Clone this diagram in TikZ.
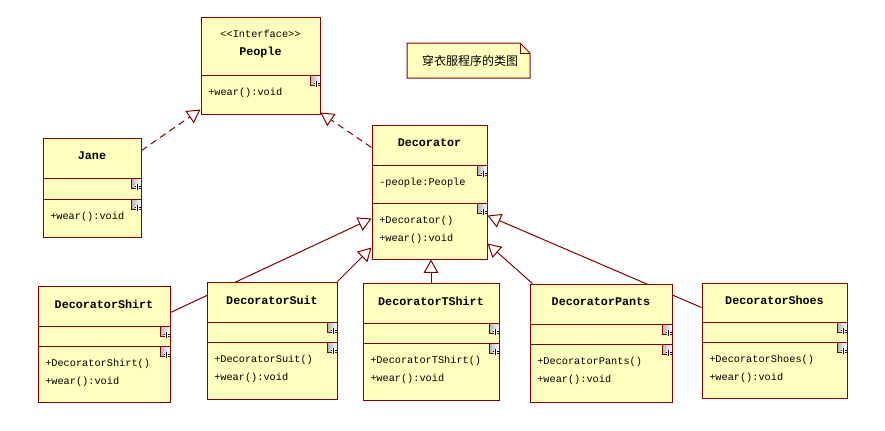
\documentclass[tikz,border=0pt]{standalone}
\usepackage{fontspec}
\newfontfamily\umlfont{Liberation Mono}
\newfontfamily\notefont{Noto Sans CJK SC}
\usetikzlibrary{arrows.meta, positioning, calc, fit, backgrounds}
\definecolor{umlborder}{RGB}{128,0,0}
\definecolor{umlfill}{RGB}{255,255,190}
\tikzset{
  classbox/.style={
    draw = umlborder,
    fill = umlfill,
    line width = 0.75pt,
    inner sep = 0
  },
  classline/.style={
    draw = umlborder,
    line width = 0.75pt
  },
  classtitle/.style={
    font = \umlfont\bfseries\fontsize{8.8}{13.5}\selectfont,
    align = center,
    inner sep = 0
  },
  member/.style={
    font = \umlfont\fontsize{7.7}{13.5}\selectfont,
    anchor = west,
    inner sep = 0
  },
  expandicon/.style={
    left color = gray!60,
    right color = white,
    draw = umlborder,
    line width = 0.6pt
  },
  plusline/.style={
    draw = black,
    line width = 0.9pt,
    preaction = {draw = white, line width = 2pt}
  },
  notetext/.style={
    font = \notefont\fontsize{9}{11}\selectfont,
    inner sep = 0
  },
  realize/.style={
    draw = umlborder,
    line width = 0.75pt,
    dash pattern = on 5pt off 3.5pt,
    arrows = {-Triangle[open, length=10pt, width=11pt]}
  },
  inherit/.style={
    draw = umlborder,
    line width = 0.75pt,
    arrows = {-Triangle[open, length=10pt, width=11pt]}
  }
}
% box, two separators, expand icons, title and operations
\newcommand{\umlclass}[9]{%
  \node[classbox, fit={(#2,#3) (#4,#5)}] (#1) {};
  \draw[classline] (#2,#6) -- (#4,#6);
  \draw[classline] (#2,#7) -- (#4,#7);
  \foreach \sepy in {#6,#7}{
    \filldraw[expandicon] (#4-10,\sepy) rectangle (#4,\sepy+10);
    \draw[plusline] (#4-6.5,\sepy+8.5) -- (#4-0.5,\sepy+8.5);
    \draw[plusline] (#4-3.5,\sepy+5.5) -- (#4-3.5,\sepy+11.5);
  }
  \node[classtitle] (#1-title) at ({(#2+#4)/2},{(#3+#6)/2-2}) {#8};
  \foreach \m [count=\i] in {#9}
    \node[member] (#1-m\i) at (#2+7,#7+18*\i) {\m};
}

\begin{document}
\begin{tikzpicture}[x=0.75pt, y=-0.75pt]
    \useasboundingbox (0,0) rectangle (885,430);

    \umlclass{people}{201}{17}{320}{114}{75}{75}{{\fontseries{m}\fontsize{7.7}{13.5}\selectfont <<Interface>>}\\People}{+wear():void}
    \umlclass{jane}{43}{138}{141}{237}{178}{199}{Jane}{+wear():void}
    \umlclass{decorator}{372}{125}{487}{259}{165}{203}{Decorator}{+Decorator(),+wear():void}
    \node[member] (decorator-a1) at (379,183) {-people:People};
    \umlclass{shirt}{38}{286}{170}{402}{326}{346}{DecoratorShirt}{+DecoratorShirt(),+wear():void}
    \umlclass{suit}{207}{282}{337}{399}{322}{342}{DecoratorSuit}{+DecoratorSuit(),+wear():void}
    \umlclass{tshirt}{363}{283}{499}{400}{323}{343}{DecoratorTShirt}{+DecoratorTShirt(),+wear():void}
    \umlclass{pants}{530}{284}{672}{402}{324}{344}{DecoratorPants}{+DecoratorPants(),+wear():void}
    \umlclass{shoes}{702}{283}{847}{398}{322}{342}{DecoratorShoes}{+DecoratorShoes(),+wear():void}

    % note with folded corner
    \filldraw[classbox] (407,43) -- (520,43) -- (530,53) -- (530,78) -- (407,78) -- cycle;
    \draw[classline] (520,43) -- (520,53) -- (530,53);
    \node[notetext] (note) at (470,61) {穿衣服程序的类图};

    \begin{scope}[on background layer]
      \draw[realize] ($(jane.north east)+(0,13)$) -- ($(people.south west)+(0,-5)$);
      \draw[realize] ($(decorator.north west)+(0,23)$) -- ($(people.south east)+(0,-2)$);
      \draw[inherit] ($(shirt.north east)+(0,27)$) -- ($(decorator.north west)+(0,94)$);
      \draw[inherit] (suit.north east) -- ($(decorator.south west)+(0,-12)$);
      \draw[inherit] (tshirt.north) -- (tshirt.north |- decorator.south);
      \draw[inherit] ($(pants.north west)+(3,0)$) -- ($(decorator.south east)+(0,-16)$);
      \draw[inherit] ($(shoes.north west)+(0,25)$) -- ($(decorator.north east)+(0,91)$);
    \end{scope}
\end{tikzpicture}
\end{document}
